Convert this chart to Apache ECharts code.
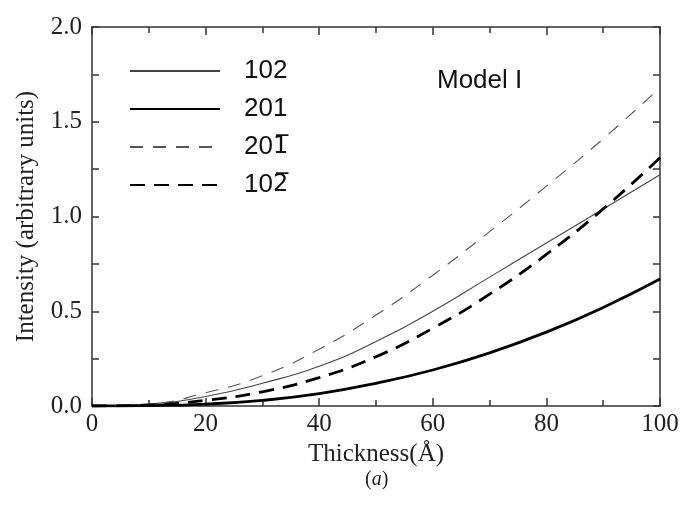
<!DOCTYPE html>
<html><head><meta charset="utf-8">
<script src="https://cdn.jsdelivr.net/npm/echarts@6/dist/echarts.min.js"></script>
<style>html,body{margin:0;padding:0;background:#fff}#c{width:684px;height:510px}</style>
</head><body><div id="c"></div>
<script>
var thickness = [0, 10, 20, 30, 40, 50, 60, 70, 80, 90, 100];
var s102  = [0, 0.01, 0.05, 0.12, 0.21, 0.34, 0.50, 0.68, 0.86, 1.04, 1.22];
var s201  = [0, 0.002, 0.01, 0.03, 0.065, 0.12, 0.19, 0.28, 0.39, 0.52, 0.67];
var s20b1 = [0, 0.01, 0.07, 0.16, 0.30, 0.48, 0.69, 0.92, 1.16, 1.41, 1.68];
var s10b2 = [0, 0.005, 0.03, 0.075, 0.15, 0.26, 0.41, 0.59, 0.80, 1.04, 1.31];
var names = ['102', '201', '201\u0305', '102\u0305'];
var legendRich = {'102':'102', '201':'201', '201\u0305':'20{o|1\u0305}', '102\u0305':'10{o|2\u0305}'};

function pairs(v){ return thickness.map(function(x,i){ return [x, v[i]]; }); }

var serif = 'Liberation Serif';
var sans = 'Liberation Sans';
var axisCol = '#333';

function mkX(pos, show){
  return {type:'value', position:pos, min:0, max:100, interval:20,
    axisLine:{show:true, onZero:false, lineStyle:{color:axisCol, width:1.5}},
    axisTick:{show:true, inside:true, length:8, lineStyle:{color:axisCol, width:1.5}},
    minorTick:{show:true, splitNumber:2, length:6, lineStyle:{color:axisCol, width:1.5}},
    splitLine:{show:false},
    axisLabel:{show:show, color:'#222', fontFamily:serif, fontSize:25, margin:6},
    name: show ? 'Thickness(Å)' : '', nameLocation:'middle', nameGap:32,
    nameTextStyle:{color:'#222', fontFamily:serif, fontSize:25}
  };
}
function mkY(pos, show){
  return {type:'value', position:pos, min:0, max:2, interval:0.5,
    axisLine:{show:true, onZero:false, lineStyle:{color:axisCol, width:1.5}},
    axisTick:{show:true, inside:true, length:7, lineStyle:{color:axisCol, width:1.5}},
    minorTick:{show:true, splitNumber:2, length:7, lineStyle:{color:axisCol, width:1.5}},
    splitLine:{show:false},
    axisLabel:{show:show, color:'#222', fontFamily:serif, fontSize:25, margin:10,
      formatter:function(v){ return v.toFixed(1); }},
    name: show ? 'Intensity (arbitrary units)' : '', nameLocation:'middle', nameGap:53, nameRotate:90,
    nameTextStyle:{color:'#222', fontFamily:serif, fontSize:25}
  };
}

function line(i, vals, col, w, dash){
  return {name:names[i], type:'line', smooth:true, symbol:'none', data:pairs(vals),
    lineStyle:{color:col, width:w, type:dash || 'solid'}};
}

var chart = echarts.init(document.getElementById('c'), null, {renderer:'canvas'});
chart.setOption({
  animation:false,
  backgroundColor:'#fff',
  grid:{left:92, right:24, top:27, bottom:104},
  xAxis:[mkX('bottom', true), mkX('top', false)],
  yAxis:[mkY('left', true), mkY('right', false)],
  legend:{orient:'vertical', left:129, top:58, padding:0, itemWidth:90, itemHeight:14, itemGap:12,
    itemStyle:{color:'rgba(0,0,0,0)', borderWidth:0, opacity:0},
    textStyle:{fontFamily:sans, fontSize:26, color:'#111', padding:[0,0,0,19],
      rich:{o:{fontFamily:'DejaVu Sans', fontSize:24, color:'#111'}}},
    formatter:function(n){ return legendRich[n]; },
    data:names},
  graphic:[
    {type:'text', left:437, top:68, style:{text:'Model I', font:'26px "Liberation Sans"', fill:'#111'}},
    {type:'text', left:365, top:470, style:{text:'{n|(}{i|a}{n|)}',
      rich:{n:{font:'20px "Liberation Serif"', fill:'#222'}, i:{font:'italic 20px "Liberation Serif"', fill:'#222'}}}}
  ],
  series:[
    line(0, s102, '#444', 1.1),
    line(1, s201, '#000', 2.8),
    line(2, s20b1, '#555', 1.1, [13,10]),
    line(3, s10b2, '#000', 2.8, [15,9])
  ]
});
</script></body></html>
